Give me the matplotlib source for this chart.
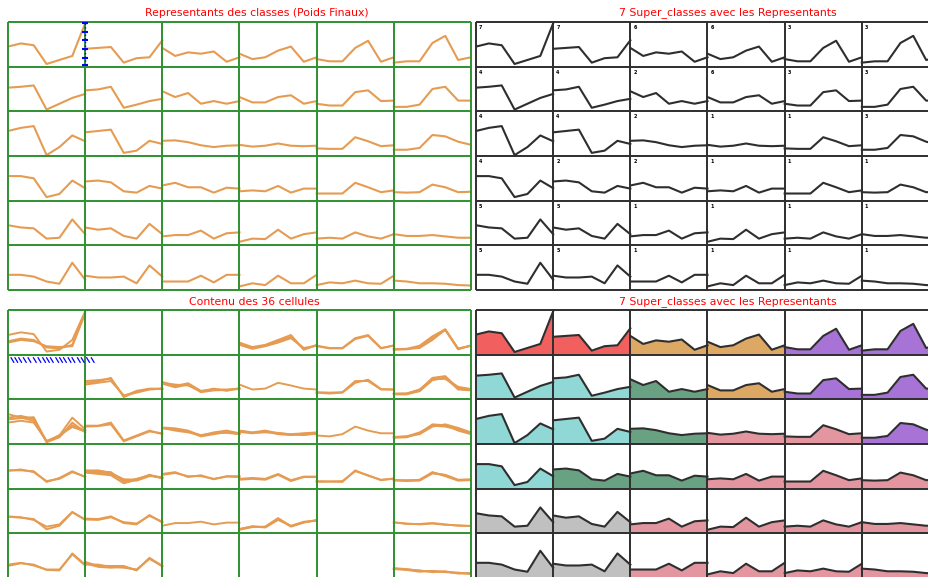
import matplotlib
matplotlib.use("Agg")
import matplotlib.pyplot as plt
import numpy as np

W, H = 929, 577
N = 6

# representative profile of each cell (row by row), 7 values, 0 = cell bottom, 1 = cell top
reps = [
    [0.45, 0.52, 0.48, 0.06, 0.15, 0.24, 0.97],
    [0.40, 0.42, 0.44, 0.09, 0.19, 0.21, 0.59],
    [0.42, 0.24, 0.32, 0.29, 0.34, 0.11, 0.21],
    [0.29, 0.17, 0.21, 0.36, 0.45, 0.11, 0.21],
    [0.17, 0.12, 0.12, 0.42, 0.58, 0.11, 0.21],
    [0.09, 0.12, 0.12, 0.53, 0.69, 0.15, 0.21],

    [0.53, 0.55, 0.58, 0.04, 0.17, 0.30, 0.39],
    [0.47, 0.49, 0.55, 0.08, 0.15, 0.23, 0.28],
    [0.45, 0.32, 0.41, 0.17, 0.23, 0.17, 0.23],
    [0.32, 0.20, 0.20, 0.32, 0.36, 0.17, 0.23],
    [0.17, 0.13, 0.13, 0.43, 0.47, 0.23, 0.24],
    [0.10, 0.10, 0.15, 0.50, 0.55, 0.24, 0.24],

    [0.56, 0.63, 0.67, 0.02, 0.20, 0.46, 0.33],
    [0.53, 0.56, 0.59, 0.07, 0.12, 0.34, 0.27],
    [0.34, 0.35, 0.31, 0.24, 0.20, 0.23, 0.24],
    [0.25, 0.21, 0.23, 0.28, 0.23, 0.22, 0.23],
    [0.17, 0.16, 0.16, 0.42, 0.33, 0.22, 0.24],
    [0.14, 0.14, 0.18, 0.47, 0.44, 0.32, 0.25],

    [0.55, 0.55, 0.50, 0.08, 0.15, 0.45, 0.28],
    [0.43, 0.45, 0.41, 0.21, 0.18, 0.33, 0.27],
    [0.34, 0.40, 0.30, 0.30, 0.18, 0.29, 0.27],
    [0.21, 0.23, 0.21, 0.33, 0.18, 0.27, 0.27],
    [0.16, 0.16, 0.16, 0.40, 0.30, 0.19, 0.23],
    [0.19, 0.18, 0.19, 0.36, 0.30, 0.19, 0.20],

    [0.45, 0.40, 0.38, 0.15, 0.17, 0.58, 0.25],
    [0.40, 0.35, 0.38, 0.21, 0.15, 0.48, 0.25],
    [0.20, 0.23, 0.23, 0.33, 0.15, 0.27, 0.29],
    [0.08, 0.15, 0.14, 0.35, 0.15, 0.25, 0.29],
    [0.15, 0.17, 0.15, 0.29, 0.20, 0.15, 0.25],
    [0.25, 0.21, 0.21, 0.23, 0.20, 0.17, 0.17],

    [0.34, 0.34, 0.30, 0.19, 0.14, 0.61, 0.23],
    [0.32, 0.28, 0.28, 0.30, 0.15, 0.55, 0.30],
    [0.19, 0.19, 0.19, 0.32, 0.17, 0.34, 0.34],
    [0.08, 0.15, 0.11, 0.32, 0.15, 0.15, 0.34],
    [0.11, 0.17, 0.15, 0.21, 0.15, 0.14, 0.32],
    [0.21, 0.19, 0.15, 0.15, 0.14, 0.11, 0.10],
]

# super class of each cell
classes = [
    7, 7, 6, 6, 3, 3,
    4, 4, 2, 6, 3, 3,
    4, 4, 2, 1, 1, 3,
    4, 2, 2, 1, 1, 1,
    5, 5, 1, 1, 1, 1,
    5, 5, 1, 1, 1, 1,
]
class_colors = {7: "#f25f5f", 6: "#dda764", 3: "#a873d6", 4: "#8fd8d5",
                2: "#69a283", 1: "#e496a0", 5: "#c0c0c0"}

# observations falling in each cell
members = {
    (0, 0): [[0.44, 0.50, 0.46, 0.07, 0.11, 0.33, 0.97],
             [0.27, 0.33, 0.30, 0.19, 0.17, 0.19, 0.92],
             [0.30, 0.36, 0.33, 0.16, 0.14, 0.22, 0.95]],
    (0, 3): [[0.27, 0.17, 0.22, 0.33, 0.44, 0.11, 0.22],
             [0.22, 0.13, 0.19, 0.27, 0.37, 0.15, 0.20],
             [0.25, 0.15, 0.20, 0.30, 0.40, 0.12, 0.21]],
    (0, 4): [[0.20, 0.15, 0.15, 0.37, 0.44, 0.15, 0.20],
             [0.19, 0.14, 0.14, 0.35, 0.42, 0.14, 0.21]],
    (0, 5): [[0.13, 0.13, 0.20, 0.41, 0.57, 0.13, 0.20],
             [0.11, 0.12, 0.17, 0.37, 0.55, 0.12, 0.21],
             [0.12, 0.13, 0.15, 0.33, 0.56, 0.14, 0.20]],
    (1, 1): [[0.41, 0.43, 0.46, 0.07, 0.19, 0.24, 0.24],
             [0.33, 0.37, 0.41, 0.09, 0.15, 0.22, 0.24],
             [0.37, 0.40, 0.48, 0.05, 0.17, 0.23, 0.23]],
    (1, 2): [[0.39, 0.30, 0.36, 0.19, 0.22, 0.22, 0.24],
             [0.35, 0.27, 0.33, 0.16, 0.20, 0.21, 0.23],
             [0.37, 0.33, 0.31, 0.18, 0.24, 0.19, 0.25]],
    (1, 3): [[0.33, 0.22, 0.24, 0.37, 0.31, 0.24, 0.22]],
    (1, 4): [[0.16, 0.15, 0.16, 0.41, 0.41, 0.22, 0.22],
             [0.15, 0.13, 0.15, 0.37, 0.44, 0.23, 0.22]],
    (1, 5): [[0.13, 0.13, 0.22, 0.46, 0.46, 0.26, 0.22],
             [0.12, 0.12, 0.18, 0.43, 0.49, 0.22, 0.20],
             [0.11, 0.11, 0.20, 0.48, 0.52, 0.24, 0.21],
             [0.12, 0.13, 0.21, 0.44, 0.47, 0.28, 0.23]],
    (2, 0): [[0.67, 0.59, 0.52, 0.06, 0.19, 0.59, 0.33],
             [0.59, 0.63, 0.56, 0.04, 0.15, 0.48, 0.26],
             [0.48, 0.52, 0.48, 0.07, 0.17, 0.42, 0.30],
             [0.55, 0.58, 0.60, 0.05, 0.20, 0.38, 0.28]],
    (2, 1): [[0.41, 0.41, 0.48, 0.08, 0.19, 0.30, 0.22],
             [0.39, 0.40, 0.44, 0.06, 0.17, 0.28, 0.24]],
    (2, 2): [[0.37, 0.35, 0.30, 0.19, 0.26, 0.30, 0.24],
             [0.35, 0.32, 0.28, 0.17, 0.22, 0.27, 0.23],
             [0.36, 0.30, 0.26, 0.20, 0.24, 0.25, 0.22]],
    (2, 3): [[0.30, 0.26, 0.30, 0.24, 0.22, 0.24, 0.26],
             [0.27, 0.24, 0.28, 0.22, 0.20, 0.23, 0.24],
             [0.29, 0.25, 0.26, 0.25, 0.21, 0.20, 0.23]],
    (2, 4): [[0.19, 0.17, 0.22, 0.39, 0.30, 0.24, 0.24]],
    (2, 5): [[0.15, 0.17, 0.26, 0.41, 0.39, 0.33, 0.24],
             [0.14, 0.15, 0.24, 0.44, 0.42, 0.30, 0.22],
             [0.16, 0.17, 0.22, 0.39, 0.44, 0.36, 0.26]],
    (3, 0): [[0.41, 0.41, 0.39, 0.15, 0.24, 0.39, 0.26],
             [0.40, 0.43, 0.37, 0.17, 0.22, 0.37, 0.27]],
    (3, 1): [[0.41, 0.39, 0.37, 0.16, 0.22, 0.30, 0.24],
             [0.36, 0.33, 0.30, 0.12, 0.20, 0.30, 0.24],
             [0.38, 0.36, 0.33, 0.19, 0.18, 0.28, 0.26],
             [0.40, 0.41, 0.35, 0.21, 0.20, 0.31, 0.23]],
    (3, 2): [[0.33, 0.37, 0.26, 0.30, 0.21, 0.28, 0.28],
             [0.31, 0.35, 0.28, 0.28, 0.22, 0.27, 0.26]],
    (3, 3): [[0.22, 0.24, 0.22, 0.33, 0.19, 0.27, 0.27],
             [0.20, 0.22, 0.20, 0.31, 0.17, 0.26, 0.26]],
    (3, 4): [[0.17, 0.16, 0.17, 0.39, 0.30, 0.19, 0.23],
             [0.15, 0.16, 0.15, 0.41, 0.29, 0.20, 0.22]],
    (3, 5): [[0.19, 0.18, 0.20, 0.36, 0.30, 0.19, 0.20],
             [0.18, 0.19, 0.18, 0.34, 0.31, 0.20, 0.21],
             [0.20, 0.17, 0.19, 0.37, 0.28, 0.18, 0.19]],
    (4, 0): [[0.38, 0.36, 0.30, 0.15, 0.20, 0.48, 0.30],
             [0.37, 0.35, 0.32, 0.09, 0.17, 0.47, 0.31]],
    (4, 1): [[0.33, 0.32, 0.38, 0.23, 0.20, 0.41, 0.24],
             [0.31, 0.30, 0.36, 0.25, 0.22, 0.39, 0.26]],
    (4, 2): [[0.17, 0.23, 0.23, 0.26, 0.20, 0.24, 0.24]],
    (4, 3): [[0.10, 0.15, 0.14, 0.33, 0.15, 0.24, 0.30],
             [0.08, 0.14, 0.15, 0.34, 0.16, 0.26, 0.28],
             [0.09, 0.16, 0.13, 0.30, 0.17, 0.25, 0.29]],
    (4, 5): [[0.25, 0.21, 0.21, 0.23, 0.20, 0.17, 0.17],
             [0.24, 0.22, 0.20, 0.22, 0.19, 0.18, 0.16]],
    (5, 0): [[0.30, 0.34, 0.28, 0.19, 0.19, 0.53, 0.28],
             [0.27, 0.33, 0.30, 0.18, 0.17, 0.55, 0.30]],
    (5, 1): [[0.36, 0.27, 0.27, 0.27, 0.17, 0.45, 0.27],
             [0.30, 0.30, 0.25, 0.23, 0.19, 0.43, 0.27],
             [0.33, 0.25, 0.23, 0.25, 0.18, 0.44, 0.26]],
    (5, 5): [[0.22, 0.20, 0.16, 0.15, 0.14, 0.11, 0.10],
             [0.20, 0.18, 0.14, 0.16, 0.13, 0.12, 0.09],
             [0.21, 0.19, 0.17, 0.13, 0.15, 0.10, 0.11]],
}

# stray blue marks left in two cells
blue_bar_y = [0.98, 0.78, 0.60, 0.40, 0.20, 0.03]
blue_tick_x = [0.04, 0.09, 0.14, 0.20, 0.26, 0.33, 0.39, 0.45, 0.50,
               0.55, 0.62, 0.67, 0.72, 0.78, 0.83, 0.90, 0.95, 1.02, 1.08]

ORANGE = "#e59c52"
GREEN = "#2f912f"
DARK = "#2e2e2e"
steps = np.arange(7) / 6.0


def panel(left, top, grid_color):
    ax = fig.add_axes([left / W, 1 - (top + 268) / H, 463 / W, 268 / H])
    ax.set_xlim(0, N)
    ax.set_ylim(0, N)
    ax.axis("off")
    ax.hlines(range(N + 1), 0, N, color=grid_color, lw=1.4, clip_on=False, zorder=5)
    ax.vlines(range(N + 1), 0, N, color=grid_color, lw=1.4, clip_on=False, zorder=5)
    return ax


fig = plt.figure(figsize=(W / 100, H / 100), dpi=100)

title_kw = dict(color="red", fontsize=7.8, ha="center", va="center")
fig.text(257 / W, 1 - 13 / H, "Representants des classes (Poids Finaux)", **title_kw)
fig.text(728 / W, 1 - 13 / H, "7 Super_classes avec les Representants", **title_kw)
fig.text(254 / W, 1 - 302 / H, "Contenu des 36 cellules", **title_kw)
fig.text(728 / W, 1 - 302 / H, "7 Super_classes avec les Representants", **title_kw)

ax_tl = panel(8, 22, GREEN)
ax_tr = panel(476, 22, DARK)
ax_bl = panel(8, 310, GREEN)
ax_br = panel(476, 310, DARK)

for i, prof in enumerate(reps):
    r, c = divmod(i, N)
    base = N - 1 - r
    x = c + steps
    y = base + np.array(prof)
    cls = classes[i]

    ax_tl.plot(x, y, color=ORANGE, lw=1.5)

    ax_tr.plot(x, y, color=DARK, lw=1.5)
    ax_tr.text(c + 0.04, base + 0.93, str(cls), fontsize=3.5, fontweight="bold",
               va="top", ha="left", color="black")

    ax_br.fill_between(x, base, y, color=class_colors[cls], lw=0)
    ax_br.plot(x, y, color=DARK, lw=1.5)

    for m in members.get((r, c), []):
        ax_bl.plot(x, base + np.array(m), color=ORANGE, lw=1.4)

# blue marks
ax_tl.plot([1] * len(blue_bar_y), [N - 1 + v for v in blue_bar_y], color="blue",
           lw=1, ls=":", marker="_", ms=4, mew=1.5, clip_on=False, zorder=6)
for tx in blue_tick_x:
    ax_bl.plot([tx, tx + 0.035], [N - 2 + 0.93, N - 2 + 0.83], color="blue",
               lw=0.9, clip_on=False, zorder=6)

fig.savefig("out.png", dpi=100)
